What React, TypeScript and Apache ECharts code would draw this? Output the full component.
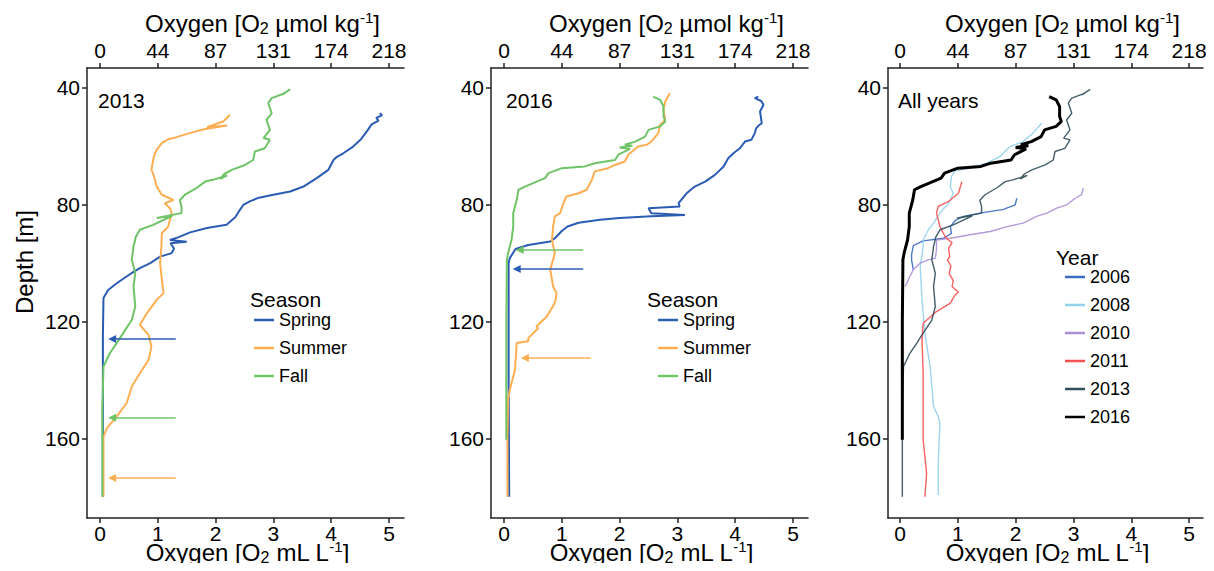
import React, { useEffect, useRef } from "react";
import * as echarts from "echarts";

const FONT = '"Liberation Sans", Arial, Helvetica, sans-serif';

// axis ticks
const mlTicks = [0, 1, 2, 3, 4, 5];
const umolTickLabels = ["0", "44", "87", "131", "174", "218"];
const depthTicks = [40, 80, 120, 160];

const seasons = ["Spring", "Summer", "Fall"];
const years = ["2006", "2008", "2010", "2011", "2013", "2016"];
const panelLabels = ["2013", "2016", "All years"];
const topTitle = "Oxygen [O{sub|2} µmol kg{sup|-1}]";
const bottomTitle = "Oxygen [O{sub|2} mL L{sup|-1}]";

// [oxygen mL/L, depth m]
const spring2013 = [[4.84,48.7],[4.88,49.4],[4.78,50.3],[4.82,51.2],[4.70,52.5],[4.62,54.8],[4.52,57.5],[4.38,60.1],[4.21,62.4],[4.10,63.6],[4.04,64.7],[3.95,68.1],[3.75,70.9],[3.52,73.8],[3.29,75.5],[3.00,76.6],[2.75,77.6],[2.60,78.8],[2.48,80.1],[2.40,82.4],[2.34,84.3],[2.19,86.9],[1.85,88.0],[1.56,89.5],[1.35,91.2],[1.21,92.1],[1.50,92.7],[1.22,93.2],[1.28,95.0],[1.24,96.6],[1.04,97.8],[0.87,100.0],[0.69,101.7],[0.58,103.0],[0.46,104.6],[0.29,106.9],[0.14,109.2],[0.06,112.0],[0.05,125.0],[0.05,150.0],[0.05,180.0]];
const summer2013 = [[2.25,49.2],[2.13,51.5],[1.85,53.5],[2.20,52.9],[1.80,54.2],[1.55,55.5],[1.27,57.2],[1.18,57.6],[1.07,58.9],[0.98,61.2],[0.94,63.0],[0.92,64.7],[0.89,68.1],[0.93,70.0],[0.95,71.5],[0.98,73.8],[1.07,76.6],[1.27,78.4],[1.12,79.5],[1.21,81.2],[1.24,82.9],[1.21,85.2],[1.18,87.5],[1.07,89.8],[1.06,95.0],[1.04,100.0],[1.07,105.8],[1.10,110.3],[0.98,112.6],[0.81,117.2],[0.69,121.2],[0.84,124.6],[0.89,128.6],[0.84,133.2],[0.69,137.7],[0.55,142.3],[0.46,148.0],[0.29,152.5],[0.12,156.5],[0.06,159.4],[0.06,170.0],[0.06,180.0]];
const fall2013 = [[3.29,40.5],[3.14,42.4],[3.20,41.8],[2.97,43.5],[2.91,45.2],[2.97,48.7],[2.88,51.0],[2.94,54.4],[2.83,57.2],[2.94,57.8],[2.85,60.7],[2.68,61.8],[2.65,64.7],[2.51,66.4],[2.28,68.1],[2.15,69.5],[2.08,71.2],[2.20,70.0],[1.95,71.5],[1.82,72.1],[1.67,74.3],[1.47,76.6],[1.38,78.5],[1.41,80.6],[1.41,82.9],[0.98,84.6],[1.25,83.8],[0.92,86.9],[0.69,88.6],[0.62,91.0],[0.58,94.3],[0.55,98.9],[0.61,103.5],[0.58,108.0],[0.61,114.9],[0.55,119.5],[0.40,124.0],[0.29,127.4],[0.17,130.9],[0.06,135.4],[0.04,150.0],[0.04,180.0]];

const spring2016 = [[4.40,43.0],[4.34,43.5],[4.45,44.5],[4.49,45.8],[4.43,48.1],[4.46,52.1],[4.40,53.0],[4.36,54.0],[4.34,55.5],[4.28,57.8],[4.17,58.4],[4.08,60.7],[3.97,62.4],[3.88,64.1],[3.80,66.9],[3.65,69.8],[3.48,72.1],[3.30,73.8],[3.16,76.1],[3.02,79.5],[3.04,80.6],[2.50,81.2],[2.55,82.9],[3.13,83.5],[2.55,84.0],[2.00,84.6],[1.66,85.2],[1.29,86.2],[1.10,87.5],[1.00,89.0],[0.88,91.5],[0.80,92.6],[0.42,93.8],[0.20,95.2],[0.10,98.3],[0.08,100.0],[0.08,140.0],[0.09,180.0]];
const summer2016 = [[2.87,41.8],[2.79,44.7],[2.76,47.5],[2.79,51.0],[2.70,52.7],[2.67,55.5],[2.55,58.4],[2.47,59.5],[2.32,60.1],[2.15,62.9],[2.09,65.2],[1.92,66.4],[1.80,67.5],[1.57,68.6],[1.52,71.5],[1.43,74.9],[1.29,76.1],[1.08,77.2],[1.03,79.5],[0.97,82.9],[0.88,84.0],[0.85,87.5],[0.83,92.1],[0.88,96.6],[0.80,102.3],[0.85,108.0],[0.91,110.3],[0.88,113.7],[0.74,118.3],[0.56,121.7],[0.59,122.3],[0.42,125.7],[0.42,126.8],[0.22,127.4],[0.19,136.6],[0.10,143.4],[0.07,146.8],[0.06,160.0],[0.06,180.0]];
const fall2016 = [[2.58,43.0],[2.70,44.1],[2.76,46.4],[2.76,49.8],[2.79,51.5],[2.70,53.2],[2.50,54.4],[2.44,56.7],[2.27,58.4],[2.09,59.5],[2.22,59.8],[2.00,60.4],[2.18,60.9],[1.98,62.9],[1.92,64.7],[1.57,65.8],[1.40,66.9],[1.00,67.5],[0.77,69.2],[0.71,70.9],[0.36,73.8],[0.25,74.9],[0.22,78.4],[0.16,82.9],[0.16,87.5],[0.13,92.1],[0.07,96.6],[0.05,98.9],[0.04,120.0],[0.04,160.5]];

const year2006 = [[2.02,77.8],[1.99,80.1],[1.79,81.6],[1.38,82.9],[1.10,84.0],[0.95,85.5],[0.87,87.5],[0.89,89.8],[0.75,91.5],[0.40,92.4],[0.23,94.0],[0.20,97.0],[0.20,99.0],[0.23,102.3]];
const year2008 = [[2.45,52.1],[2.30,55.5],[2.13,58.4],[1.90,60.1],[1.73,63.5],[1.50,65.8],[1.20,67.5],[0.95,68.5],[0.89,70.3],[0.87,73.8],[0.92,76.1],[0.84,79.5],[0.69,82.9],[0.58,86.3],[0.49,88.6],[0.40,92.1],[0.40,94.3],[0.35,101.2],[0.38,112.6],[0.43,124.0],[0.52,135.4],[0.58,149.1],[0.66,152.5],[0.69,154.8],[0.66,169.0],[0.66,179.4]];
const year2010 = [[3.17,74.3],[3.14,76.6],[3.03,77.8],[2.88,80.1],[2.71,81.2],[2.54,82.9],[2.36,84.0],[2.13,86.3],[1.85,87.5],[1.56,89.2],[1.21,90.3],[0.87,91.5],[0.63,92.1],[0.63,95.5],[0.61,98.3],[0.49,98.9],[0.35,100.0],[0.23,102.3],[0.17,104.6],[0.09,108.0]];
const year2011 = [[1.07,72.1],[1.01,76.1],[0.84,78.9],[0.66,80.6],[0.63,82.9],[0.69,87.5],[0.78,90.9],[0.84,92.1],[0.90,93.0],[0.84,95.0],[0.86,97.8],[0.82,99.0],[0.88,101.0],[0.85,103.5],[0.92,106.0],[0.90,108.0],[1.01,110.0],[0.95,111.0],[0.87,113.7],[0.63,116.6],[0.40,120.6],[0.38,126.3],[0.40,137.7],[0.40,149.1],[0.40,160.5],[0.46,172.0],[0.43,180.0]];
const year2013 = fall2013;
const year2016 = fall2016;

// arrows: [season, depth, from value, to value]
const arrows2013 = [["Spring", 126, 1.31, 0.21], ["Fall", 153, 1.31, 0.21], ["Summer", 173.6, 1.31, 0.21]];
const arrows2016 = [["Fall", 95.5, 1.37, 0.27], ["Spring", 102, 1.37, 0.22], ["Summer", 132.5, 1.5, 0.36]];

const seasonColors: Record<string, string> = { Spring: "#2b5cb3", Summer: "#fdae52", Fall: "#6fc467" };
const yearColors: Record<string, string> = { "2006": "#3a6cc2", "2008": "#93d2ec", "2010": "#ab8fd4", "2011": "#f65050", "2013": "#2f4d5a", "2016": "#000000" };

const panels = [
  { left: 87, width: 317, xmin: -0.225, xmax: 5.26 },
  { left: 491, width: 317, xmin: -0.225, xmax: 5.26 },
  { left: 888, width: 315, xmin: -0.208, xmax: 5.24 },
];

export default function App() {
  const ref = useRef<HTMLDivElement>(null);
  useEffect(() => {
    if (!ref.current) return;
    const chart = echarts.init(ref.current, null, { renderer: "svg" });
    const axisColor = "#222";
    const lineStyle = { color: axisColor, width: 1.5 };
    const labelStyle = { fontSize: 21, color: "#000", fontFamily: FONT };
    const rich = {
      sub: { fontSize: 16, fontFamily: FONT, fill: "#000", verticalAlign: "bottom", lineHeight: 26 },
      sup: { fontSize: 15, fontFamily: FONT, fill: "#000", verticalAlign: "top", lineHeight: 26 },
    };
    const grid: any[] = [];
    const xAxis: any[] = [];
    const yAxis: any[] = [];
    const titles: any[] = [];
    panels.forEach((p, i) => {
      grid.push({ left: p.left, top: 68, width: p.width, height: 450, containLabel: false, outerBoundsMode: "none" });
      xAxis.push({
        type: "value", gridIndex: i, position: "bottom", min: p.xmin, max: p.xmax,
        axisLine: { show: true, onZero: false, lineStyle },
        axisTick: { show: true, length: 5, customValues: mlTicks, lineStyle },
        axisLabel: { ...labelStyle, customValues: mlTicks, margin: 5 },
        splitLine: { show: false },
      });
      xAxis.push({
        type: "value", gridIndex: i, position: "top", min: p.xmin, max: p.xmax,
        axisLine: { show: true, onZero: false, lineStyle },
        axisTick: { show: true, length: 5, customValues: mlTicks, lineStyle },
        axisLabel: {
          ...labelStyle, customValues: mlTicks, margin: 7,
          formatter: (v: number) => umolTickLabels[mlTicks.indexOf(Math.round(v))] ?? "",
        },
        splitLine: { show: false },
      });
      yAxis.push({
        type: "value", gridIndex: i, inverse: true, min: 33.2, max: 187.3,
        axisLine: { show: true, onZero: false, lineStyle },
        axisTick: { show: true, length: 5, customValues: depthTicks, lineStyle },
        axisLabel: { ...labelStyle, customValues: depthTicks, margin: 7 },
        splitLine: { show: false },
      });
      const cx = p.left + p.width / 2;
      titles.push({
        type: "text", x: cx + 17, y: 23, silent: true,
        style: { text: topTitle, fontSize: 24, fontFamily: FONT, fill: "#000", lineHeight: 26, align: "center", verticalAlign: "middle", rich },
      });
      titles.push({
        type: "text", x: cx + 2, y: 552, silent: true,
        style: { text: bottomTitle, fontSize: 24, fontFamily: FONT, fill: "#000", lineHeight: 26, align: "center", verticalAlign: "middle", rich },
      });
    });

    const mkArrows = (list: any[], season: string) => {
      const items = list.filter((a) => a[0] === season);
      if (!items.length) return undefined;
      return {
        silent: true, symbol: ["none", "triangle"], symbolSize: 8, animation: false,
        label: { show: false },
        lineStyle: { color: seasonColors[season], width: 1.5, type: "solid" },
        data: items.map((a) => [{ coord: [a[2], a[1]] }, { coord: [a[3], a[1]] }]),
      };
    };

    const series: any[] = [];
    const p1 = [spring2013, summer2013, fall2013];
    const p2 = [spring2016, summer2016, fall2016];
    seasons.forEach((s, k) => {
      series.push({
        type: "line", name: s, xAxisIndex: 0, yAxisIndex: 0, data: p1[k],
        symbol: "none", showSymbol: false, silent: true, color: seasonColors[s],
        lineStyle: { color: seasonColors[s], width: 2 }, itemStyle: { color: seasonColors[s] },
        markLine: mkArrows(arrows2013, s), z: 2 + k,
      });
    });
    seasons.forEach((s, k) => {
      series.push({
        type: "line", name: s, xAxisIndex: 2, yAxisIndex: 1, data: p2[k],
        symbol: "none", showSymbol: false, silent: true, color: seasonColors[s],
        lineStyle: { color: seasonColors[s], width: 2 }, itemStyle: { color: seasonColors[s] },
        markLine: mkArrows(arrows2016, s), z: 2 + k,
      });
    });
    const p3 = [year2006, year2008, year2010, year2011, year2013, year2016];
    years.forEach((y, k) => {
      const c = yearColors[y];
      series.push({
        type: "line", name: y, xAxisIndex: 4, yAxisIndex: 2, data: p3[k],
        symbol: "none", showSymbol: false, silent: true, color: c,
        lineStyle: { color: c, width: y === "2016" ? 3 : 1.4, opacity: y === "2016" ? 1 : 0.9 },
        itemStyle: { color: c }, z: 2 + k,
      });
    });

    const legendBase = {
      orient: "vertical", icon: "rect", itemWidth: 20, itemHeight: 2.5, itemGap: 10, padding: 0,
      selectedMode: false, textStyle: { fontSize: 18, color: "#000", fontFamily: FONT },
    };

    const txt = (text: string, x: number, y: number, size: number) => ({
      type: "text", x, y, silent: true,
      style: { text, fontSize: size, fontFamily: FONT, fill: "#000", align: "left", verticalAlign: "middle" },
    });

    chart.setOption({
      animation: false,
      backgroundColor: "#fff",
      grid, xAxis, yAxis, series,
      legend: [
        { ...legendBase, data: seasons, left: 254, top: 311 },
        { ...legendBase, data: seasons, left: 658, top: 311 },
        { ...legendBase, data: years, left: 1065, top: 268 },
      ],
      graphic: [
        ...titles,
        txt(panelLabels[0], 98, 100, 21),
        txt(panelLabels[1], 506, 100, 21),
        txt(panelLabels[2], 898, 100, 21),
        txt("Season", 250, 299, 21),
        txt("Season", 647, 299, 21),
        txt("Year", 1056, 257, 21),
        {
          type: "text", x: 24, y: 262, rotation: Math.PI / 2, silent: true,
          style: { text: "Depth [m]", fontSize: 24, fontFamily: FONT, fill: "#000", align: "center", verticalAlign: "middle" },
        },
      ],
    });
    return () => chart.dispose();
  }, []);
  return <div ref={ref} style={{ width: 1214, height: 571, margin: -8 }} />;
}
